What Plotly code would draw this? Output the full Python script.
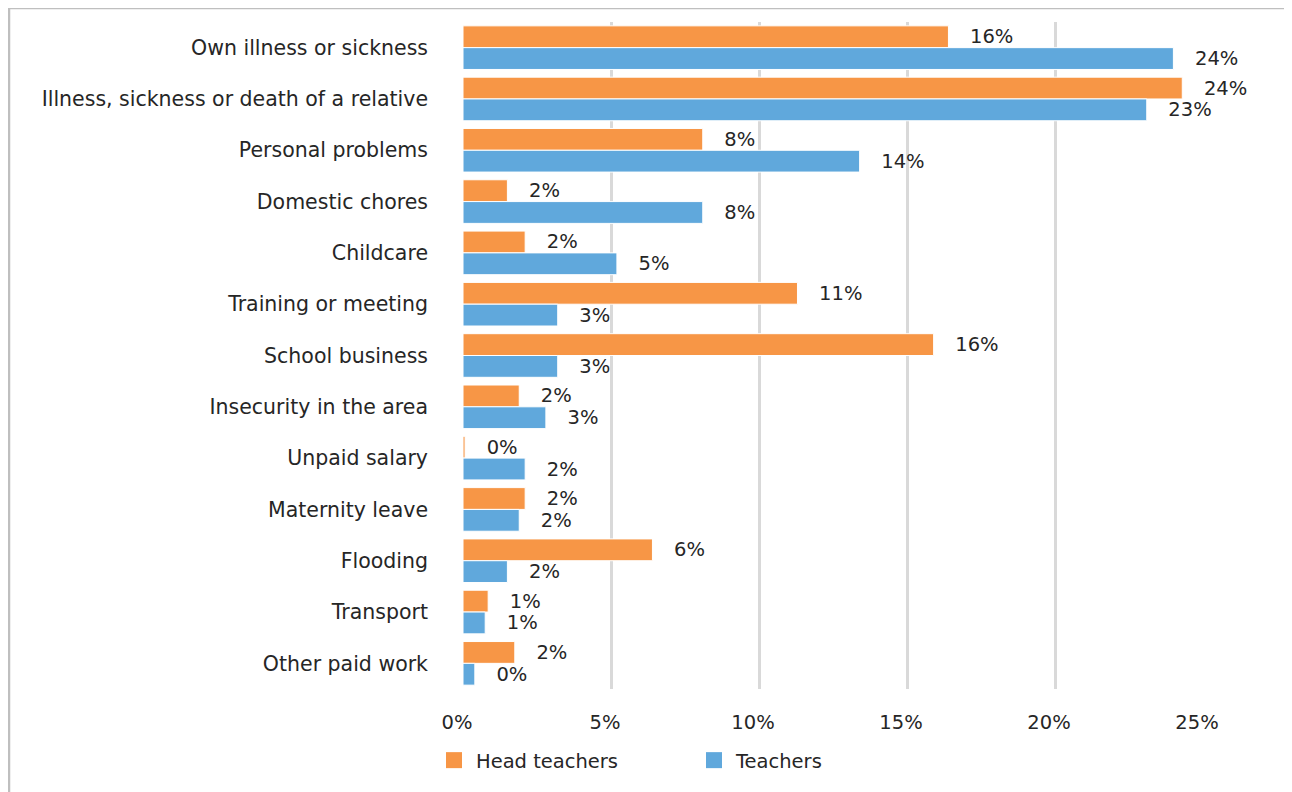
import plotly.graph_objects as go

categories = [
    "Own illness or sickness",
    "Illness, sickness or death of a relative",
    "Personal problems",
    "Domestic chores",
    "Childcare",
    "Training or meeting",
    "School business",
    "Insecurity in the area",
    "Unpaid salary",
    "Maternity leave",
    "Flooding",
    "Transport",
    "Other paid work",
]
head_teachers = [16.4, 24.3, 8.1, 1.5, 2.1, 11.3, 15.9, 1.9, 0.07, 2.1, 6.4, 0.85, 1.75]
teachers = [24.0, 23.1, 13.4, 8.1, 5.2, 3.2, 3.2, 2.8, 2.1, 1.9, 1.5, 0.75, 0.4]
ht_labels = ["16%", "24%", "8%", "2%", "2%", "11%", "16%", "2%", "0%", "2%", "6%", "1%", "2%"]
t_labels = ["24%", "23%", "14%", "8%", "5%", "3%", "3%", "3%", "2%", "2%", "2%", "1%", "0%"]
x_ticks = [0, 5, 10, 15, 20, 25]
x_tick_text = ["0%", "5%", "10%", "15%", "20%", "25%"]

FONT = "DejaVu Sans"
TXT = "#262626"
ORANGE = "#F79646"
BLUE = "#60A8DC"
pad = "\u00a0" * 3

fig = go.Figure()
fig.add_trace(go.Bar(
    y=categories, x=head_teachers, orientation="h", name="Head teachers",
    marker=dict(color=ORANGE, line=dict(color="white", width=1)),
    text=[pad + t for t in ht_labels], textposition="outside",
    textfont=dict(family=FONT, size=19.5, color=TXT), constraintext="none",
    cliponaxis=False, showlegend=False,
))
fig.add_trace(go.Bar(
    y=categories, x=teachers, orientation="h", name="Teachers",
    marker=dict(color=BLUE, line=dict(color="white", width=1)),
    text=[pad + t for t in t_labels], textposition="outside",
    textfont=dict(family=FONT, size=19.5, color=TXT), constraintext="none",
    cliponaxis=False, showlegend=False,
))
# legend entries with larger square swatches
for name, col in [("Head teachers", ORANGE), ("Teachers", BLUE)]:
    fig.add_trace(go.Scatter(
        x=[None], y=[None], mode="markers", name=name,
        marker=dict(symbol="square", size=16, color=col),
    ))

# page offset of 8px (body margin)
OFF = 8
L, R, T, B = 463 - OFF, 1203 - OFF, 22 - OFF, 694 - OFF
W, H = 1284, 784
pw, ph = R - L, B - T

fig.update_layout(
    width=W, height=H,
    margin=dict(l=L, r=W - R, t=T, b=H - B),
    paper_bgcolor="white", plot_bgcolor="white",
    barmode="group", bargap=0.15, bargroupgap=0.0,
    font=dict(family=FONT, size=20, color=TXT),
    showlegend=True,
    legend=dict(orientation="h", x=(432 - 463) / pw, xanchor="left",
                y=(B - (766 - OFF)) / ph, yanchor="middle",
                font=dict(family=FONT, size=19.5, color=TXT),
                itemwidth=34, traceorder="normal", entrywidth=211, entrywidthmode="pixels"),
    xaxis=dict(range=[0, 25], tickvals=x_ticks, ticktext=x_tick_text,
               showgrid=True, gridcolor="#D9D9D9", gridwidth=2.5,
               zeroline=False, showline=False, ticks="",
               ticklabelstandoff=19, ticklabelshift=-6,
               tickfont=dict(family=FONT, size=19.5, color=TXT), automargin=False),
    yaxis=dict(autorange="reversed", showgrid=False, zeroline=False,
               showline=False, ticks="", ticklabelstandoff=34,
               tickfont=dict(family=FONT, size=20.5, color=TXT), automargin=False),
    shapes=[dict(type="rect", xref="paper", yref="paper",
                 x0=(1 - L) / pw, x1=(1282 - L) / pw,
                 y0=(B - 800) / ph, y1=(B - 0) / ph,
                 line=dict(color="#BFBFBF", width=2.5), fillcolor="rgba(0,0,0,0)",
                 layer="below")],
)

fig.write_html("out.html")
